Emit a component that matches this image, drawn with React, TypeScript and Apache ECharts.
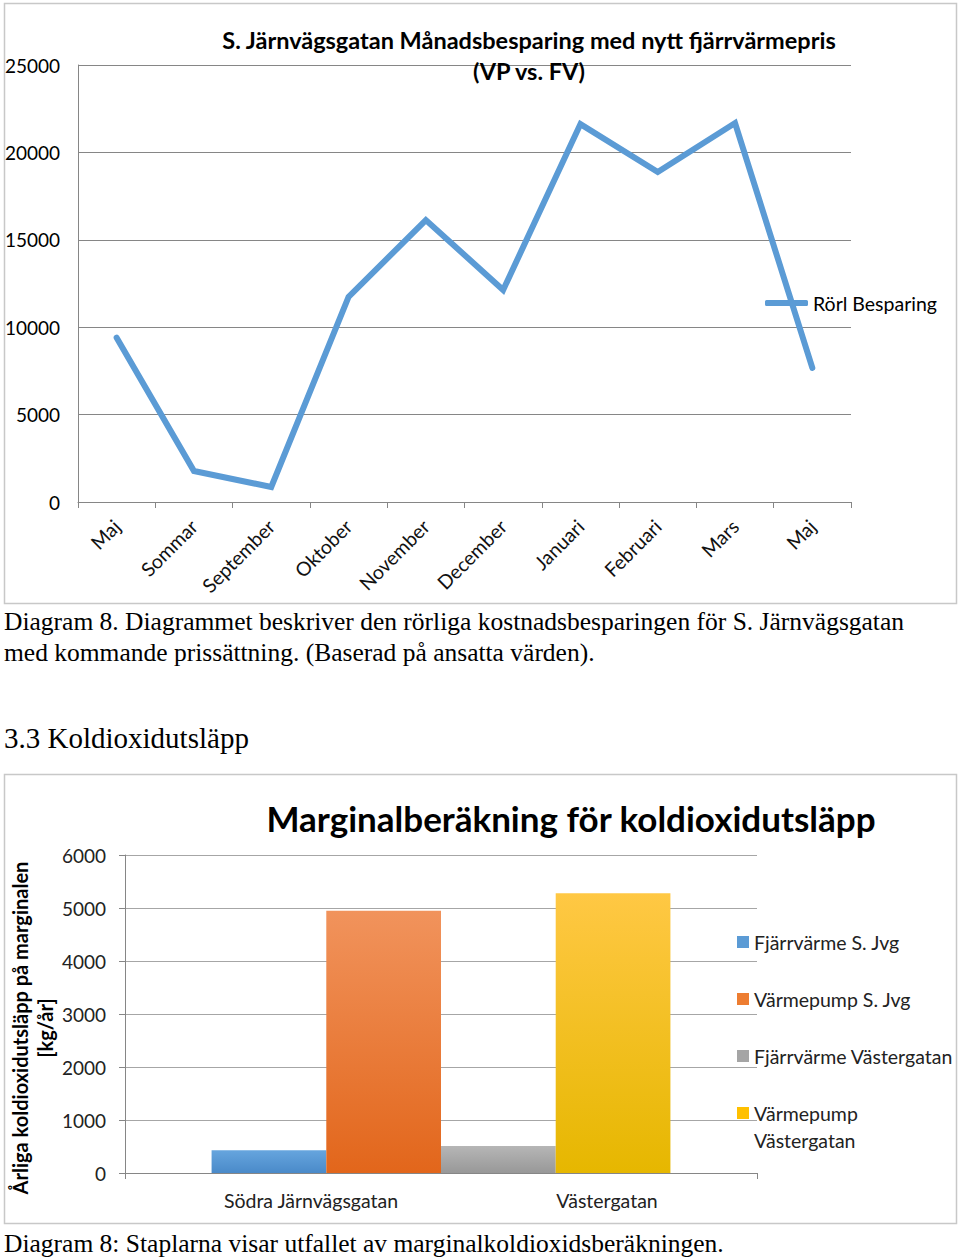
import React, { useEffect, useRef } from "react";
import * as echarts from "echarts";

const months = ["Maj", "Sommar", "September", "Oktober", "November", "December", "Januari", "Februari", "Mars", "Maj"];
const savings = [9400, 1770, 860, 11730, 16130, 12130, 21620, 18880, 21680, 7670];
const lineSeriesName = "Rörl Besparing";

const barSeriesNames = ["Fjärrvärme S. Jvg", "Värmepump S. Jvg", "Fjärrvärme Västergatan", "Värmepump Västergatan"];
const barValues = [430, 4950, 510, 5280];
const streets = ["Södra Järnvägsgatan", "Västergatan"];

const barColors = [
  ["#66a5de", "#4a8ac9"],
  ["#f1935c", "#e2661b"],
  ["#b6b6b6", "#989898"],
  ["#ffc844", "#e6b700"],
];
const legendSwatch = ["#5b9bd5", "#ed7d31", "#a5a5a5", "#ffc000"];

const FONT = "Lato";
const SERIF = "Liberation Serif";

export default function App() {
  const ref = useRef<HTMLDivElement>(null);
  useEffect(() => {
    if (!ref.current) return;
    const chart = echarts.init(ref.current, null, { renderer: "svg" });
    const plain = (v: number) => String(v);
    // long legend names wrap in the reference: first line in the legend, rest drawn beneath
    const firstLine = (name: string) => (name === "Värmepump Västergatan" ? "Värmepump" : name);
    const option: any = {
      animation: false,
      backgroundColor: "#ffffff",
      title: [
        {
          text: "S. Järnvägsgatan Månadsbesparing med nytt fjärrvärmepris\n(VP vs. FV)",
          left: 529,
          top: 24,
          textAlign: "center",
          padding: 0,
          textStyle: { fontFamily: FONT, fontWeight: "bold", fontSize: 23.5, lineHeight: 31, color: "#000" },
        },
        {
          text: "Marginalberäkning för koldioxidutsläpp",
          left: 571,
          top: 797,
          textAlign: "center",
          padding: 0,
          textStyle: { fontFamily: FONT, fontWeight: "bold", fontSize: 35, lineHeight: 42, color: "#000" },
        },
      ],
      legend: [
        {
          data: [lineSeriesName],
          left: 765,
          top: 293,
          orient: "vertical",
          padding: 0,
          itemWidth: 43,
          itemHeight: 6,
          icon: "roundRect",
          itemStyle: { color: "#5b9bd5" },
          textStyle: { fontFamily: FONT, fontSize: 19.5, color: "#000" },
        },
        ...barSeriesNames.map((n, i) => ({
          data: [n],
          left: 737,
          top: 932 + i * 57,
          orient: "vertical",
          padding: 0,
          itemWidth: 12,
          itemHeight: 12,
          icon: "rect",
          itemStyle: { color: legendSwatch[i] },
          formatter: firstLine,
          textStyle: { fontFamily: FONT, fontSize: 19.5, color: "#222" },
        })),
      ],
      grid: [
        { left: 78, top: 65, width: 773, height: 437, containLabel: false },
        { left: 125, top: 855, width: 632, height: 318, containLabel: false },
        { left: 163, top: 855, width: 592, height: 318, containLabel: false },
      ],
      xAxis: [
        {
          gridIndex: 0,
          type: "category",
          data: months,
          boundaryGap: true,
          axisLine: { show: true, lineStyle: { color: "#868686", width: 1 } },
          axisTick: { show: true, interval: 0, length: 6, lineStyle: { color: "#868686" } },
          axisLabel: { interval: 0, rotate: 45, margin: 21, fontFamily: FONT, fontSize: 19.5, color: "#111" },
        },
        {
          gridIndex: 1,
          type: "category",
          data: [""],
          axisLine: { show: true, lineStyle: { color: "#868686", width: 1 } },
          axisTick: { show: true, length: 6, lineStyle: { color: "#868686" } },
          axisLabel: { show: false },
        },
        {
          gridIndex: 2,
          type: "category",
          data: streets,
          axisLine: { show: false },
          axisTick: { show: false },
          axisLabel: { interval: 0, margin: 17, fontFamily: FONT, fontSize: 19.5, color: "#222" },
        },
      ],
      yAxis: [
        {
          gridIndex: 0,
          type: "value",
          min: 0,
          max: 25000,
          interval: 5000,
          axisLine: { show: true, lineStyle: { color: "#868686" } },
          axisTick: { show: false },
          splitLine: { show: true, lineStyle: { color: "#868686", width: 1 } },
          axisLabel: { margin: 18, fontFamily: FONT, fontSize: 19, color: "#000", formatter: plain },
        },
        {
          gridIndex: 1,
          type: "value",
          min: 0,
          max: 6000,
          interval: 1000,
          axisLine: { show: true, lineStyle: { color: "#868686" } },
          axisTick: { show: true, inside: false, length: 6, lineStyle: { color: "#868686" } },
          splitLine: { show: true, lineStyle: { color: "#a6a6a6", width: 1 } },
          axisLabel: { margin: 19, fontFamily: FONT, fontSize: 19, color: "#222", formatter: plain },
        },
        {
          gridIndex: 2,
          type: "value",
          show: false,
          min: 0,
          max: 6000,
        },
      ],
      series: [
        {
          type: "line",
          name: lineSeriesName,
          xAxisIndex: 0,
          yAxisIndex: 0,
          data: savings,
          showSymbol: false,
          symbol: "none",
          lineStyle: { color: "#5b9bd5", width: 6, cap: "round", join: "miter" },
          itemStyle: { color: "#5b9bd5" },
        },
        ...barSeriesNames.map((n, i) => ({
          type: "bar",
          name: n,
          xAxisIndex: 1,
          yAxisIndex: 1,
          data: [barValues[i]],
          barGap: "0%",
          barCategoryGap: "27.4%",
          itemStyle: {
            color: new echarts.graphic.LinearGradient(0, 0, 0, 1, [
              { offset: 0, color: barColors[i][0] },
              { offset: 1, color: barColors[i][1] },
            ]),
          },
        })),
      ],
      graphic: [
        {
          type: "rect",
          shape: { x: 4.5, y: 3.5, width: 952, height: 600 },
          style: { fill: "none", stroke: "#c8c8c8", lineWidth: 1.5 },
          silent: true,
          z: -1,
        },
        {
          type: "rect",
          shape: { x: 4.5, y: 774.5, width: 952, height: 449 },
          style: { fill: "none", stroke: "#c8c8c8", lineWidth: 1.5 },
          silent: true,
          z: -1,
        },
        {
          type: "text",
          x: 754,
          y: 1140,
          style: {
            text: "Västergatan",
            fontFamily: FONT,
            fontSize: 19.5,
            fill: "#222",
            verticalAlign: "middle",
            align: "left",
          },
        },
        {
          type: "text",
          x: 4,
          y: 621,
          style: {
            text: "Diagram 8. Diagrammet beskriver den rörliga kostnadsbesparingen för S. Järnvägsgatan",
            fontFamily: SERIF,
            fontSize: 25.5,
            fill: "#000",
            verticalAlign: "middle",
            align: "left",
          },
        },
        {
          type: "text",
          x: 4,
          y: 652,
          style: {
            text: "med kommande prissättning. (Baserad på ansatta värden).",
            fontFamily: SERIF,
            fontSize: 25.5,
            fill: "#000",
            verticalAlign: "middle",
            align: "left",
          },
        },
        {
          type: "text",
          x: 4,
          y: 738,
          style: {
            text: "3.3 Koldioxidutsläpp",
            fontFamily: SERIF,
            fontSize: 29,
            fill: "#000",
            verticalAlign: "middle",
            align: "left",
          },
        },
        {
          type: "text",
          x: 4,
          y: 1243,
          style: {
            text: "Diagram 8: Staplarna visar utfallet av marginalkoldioxidsberäkningen.",
            fontFamily: SERIF,
            fontSize: 25.5,
            fill: "#000",
            verticalAlign: "middle",
            align: "left",
          },
        },
        {
          type: "text",
          x: 32,
          y: 1028,
          rotation: Math.PI / 2,
          style: {
            text: "Årliga koldioxidutsläpp på marginalen\n[kg/år]",
            fontFamily: FONT,
            fontWeight: "bold",
            fontSize: 20,
            lineHeight: 25,
            fill: "#000",
            align: "center",
            verticalAlign: "middle",
          },
        },
      ],
    };
    chart.setOption(option);
    return () => chart.dispose();
  }, []);
  return (
    <div
      ref={ref}
      style={{ position: "absolute", left: 0, top: 0, width: 960, height: 1258 }}
    />
  );
}
